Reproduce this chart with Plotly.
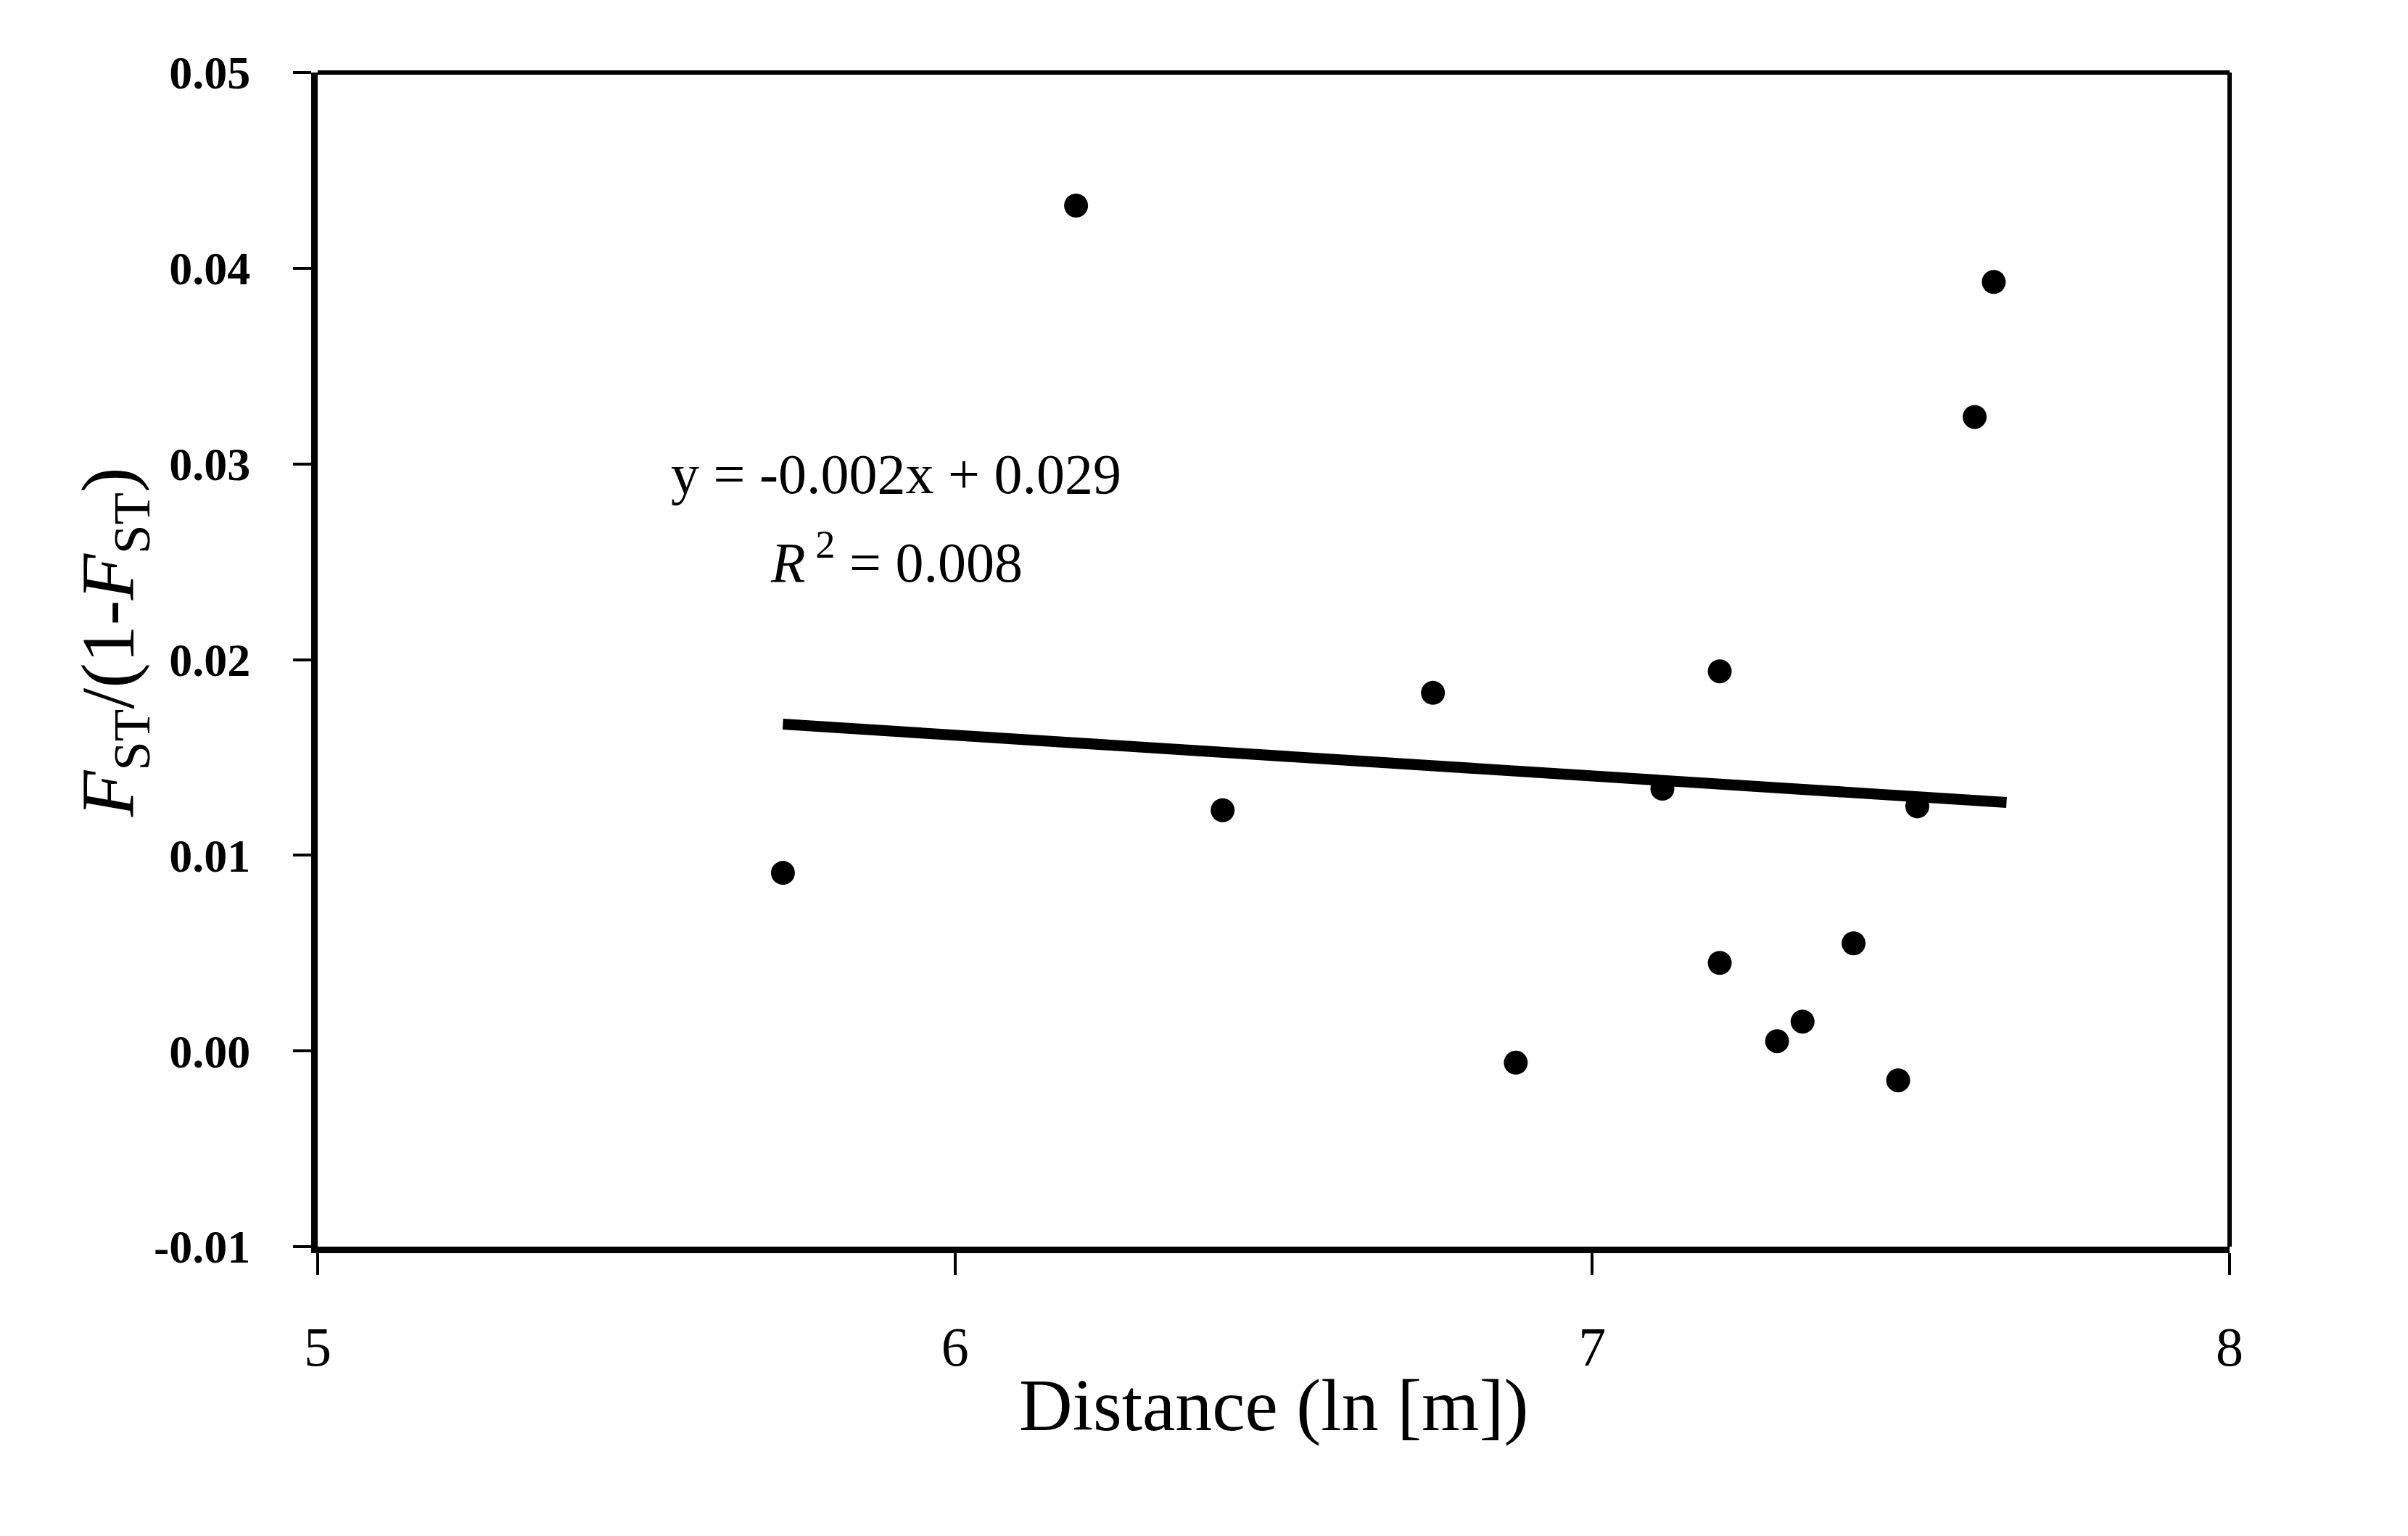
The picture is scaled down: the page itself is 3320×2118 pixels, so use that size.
import plotly.graph_objects as go

# Data
distance_ln = [5.73, 6.19, 6.42, 6.75, 6.88, 7.11, 7.20, 7.20, 7.29, 7.33, 7.41, 7.48, 7.51, 7.60, 7.63]
fst_ratio = [0.0091, 0.0432, 0.0123, 0.0183, -0.0006, 0.0134, 0.0194, 0.0045, 0.0005, 0.0015, 0.0055, -0.0015, 0.0125, 0.0324, 0.0393]

trend_x = [5.73, 7.65]
trend_y = [0.0167, 0.0127]

x_ticks = [5, 6, 7, 8]
y_ticks = [-0.01, 0.00, 0.01, 0.02, 0.03, 0.04, 0.05]

eq_line1 = "y = -0.002x + 0.029"
eq_line2 = "<i>R</i><sup> 2</sup> = 0.008"

FONT = "Liberation Serif"

fig = go.Figure()
fig.add_trace(go.Scatter(x=trend_x, y=trend_y, mode="lines",
                         line=dict(color="black", width=15), showlegend=False))
fig.add_trace(go.Scatter(x=distance_ln, y=fst_ratio, mode="markers",
                         marker=dict(color="black", size=33), showlegend=False))

fig.update_layout(
    width=3320, height=2118,
    margin=dict(l=438, r=246, t=100, b=399),
    paper_bgcolor="white", plot_bgcolor="white",
    font=dict(family=FONT, color="black"),
)
fig.update_xaxes(range=[5, 8], tickvals=x_ticks, ticktext=[str(v) for v in x_ticks],
                 showgrid=False, zeroline=False,
                 showline=True, linecolor="black", linewidth=9,
                 ticks="outside", ticklen=30, tickwidth=4, tickcolor="black",
                 tickfont=dict(family=FONT, size=76, color="black"),
                 ticklabelstandoff=34)
fig.update_yaxes(range=[-0.01, 0.05], tickvals=y_ticks,
                 ticktext=[f"{v:.2f}" for v in y_ticks],
                 showgrid=False, zeroline=False,
                 showline=True, linecolor="black", linewidth=9,
                 ticks="outside", ticklen=25, tickwidth=4, tickcolor="black",
                 tickfont=dict(family=FONT, size=64, color="black", weight="bold"),
                 ticklabelstandoff=46)

# top and right frame lines
fig.add_shape(type="line", xref="paper", yref="paper", x0=0, x1=1, y0=1, y1=1,
              line=dict(color="black", width=6))
fig.add_shape(type="line", xref="paper", yref="paper", x0=1, x1=1, y0=0, y1=1,
              line=dict(color="black", width=6))

# regression equation
fig.add_annotation(x=5.908, y=0.0295, xref="x", yref="y", text=eq_line1,
                   showarrow=False, font=dict(family=FONT, size=78, color="black"))
fig.add_annotation(x=5.908, y=0.0252, xref="x", yref="y", text=eq_line2,
                   showarrow=False, font=dict(family=FONT, size=78, color="black"))

# axis titles
fig.add_annotation(x=0.5, y=-0.135, xref="paper", yref="paper", yanchor="middle",
                   text="Distance (ln [m])", showarrow=False,
                   font=dict(family=FONT, size=102, color="black"))
fig.add_annotation(x=-0.107, y=0.515, xref="paper", yref="paper", textangle=-90,
                   xanchor="center", yanchor="middle",
                   text="<i>F</i><sub>ST</sub>/(1-<i>F</i><sub>ST</sub>)", showarrow=False,
                   font=dict(family=FONT, size=104, color="black"))

fig.write_html("out.html")
